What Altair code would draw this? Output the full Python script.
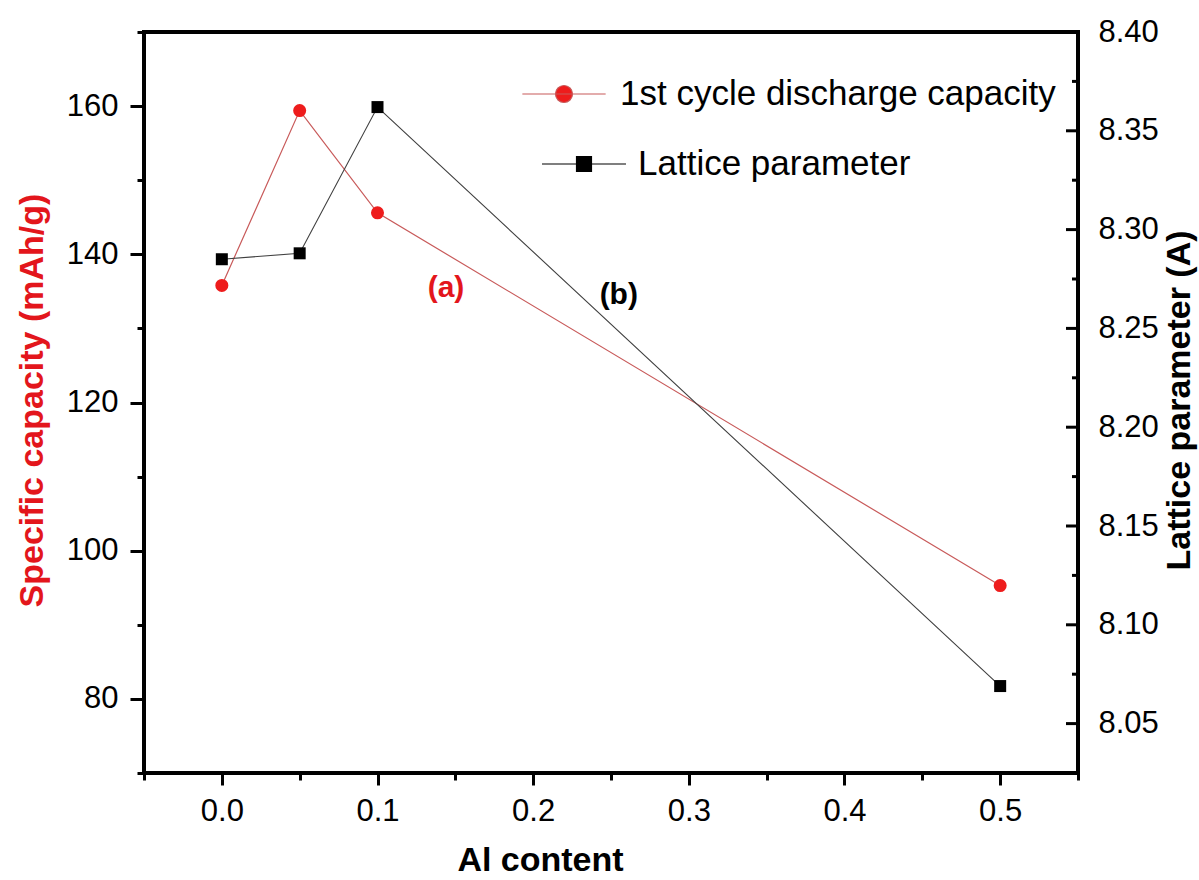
import altair as alt
import pandas as pd

FONT = "Liberation Sans"

# Measured data
al_content = [0.0, 0.05, 0.1, 0.5]
capacity = [135.8, 159.4, 145.6, 95.3]          # mAh/g
lattice = [8.285, 8.288, 8.362, 8.069]          # A

cap_name = "1st cycle discharge capacity"
lat_name = "Lattice parameter"

# Axis ticks
x_ticks = [-0.05, 0.0, 0.05, 0.1, 0.15, 0.2, 0.25, 0.3, 0.35, 0.4, 0.45, 0.5, 0.55]
cap_ticks = [70, 80, 90, 100, 110, 120, 130, 140, 150, 160, 170]
lat_major = [8.05, 8.10, 8.15, 8.20, 8.25, 8.30, 8.35, 8.40]
lat_minor = [8.025, 8.075, 8.125, 8.175, 8.225, 8.275, 8.325, 8.375]

# Panel labels
label_a = {"x": 0.144, "y": 135.4, "text": "(a)"}
label_b = {"x": 0.255, "y": 8.267, "text": "(b)"}

W, H = 934, 741
RED = "#ee1c1c"
RED_LINE = "#c85a5a"
RED_TITLE = "#e3161c"

cap_df = pd.DataFrame({"al": al_content, "cap": capacity, "series": cap_name})
lat_df = pd.DataFrame({"al": al_content, "lat": lattice, "series": lat_name})

x_scale = alt.Scale(domain=[-0.05, 0.55], nice=False, zero=False)
cap_scale = alt.Scale(domain=[70, 170], nice=False, zero=False)
lat_scale = alt.Scale(domain=[8.025, 8.40], nice=False, zero=False)

x_axis = alt.Axis(
    values=x_ticks,
    format=".1f",
    labelExpr="abs(datum.value * 10 - round(datum.value * 10)) < 1e-6 && datum.value > -0.01 && datum.value < 0.51 ? datum.label : ''",
    tickSize={"condition": {"test": "abs(datum.value * 10 - round(datum.value * 10)) < 1e-6", "value": 12}, "value": 7},
    labelPadding=11,
    title="Al content",
    titleX=396, titleY=87,
    titleAlign="center", titleBaseline="middle",
)

cap_axis = alt.Axis(
    orient="left",
    values=cap_ticks,
    labelExpr="datum.value % 20 === 0 && datum.value >= 80 && datum.value <= 160 ? datum.label : ''",
    tickSize={"condition": {"test": "datum.value % 20 === 0", "value": 14}, "value": 7},
    labelPadding=12,
    title="Specific capacity (mAh/g)",
    titleColor=RED_TITLE,
    titleAngle=270,
    titleX=-112, titleY=368,
    titleAlign="center", titleBaseline="middle",
)

lat_axis = alt.Axis(
    orient="right",
    values=lat_major,
    format=".2f",
    ticks=False,
    labelPadding=20,
    title="Lattice parameter (A)",
    titleAngle=270,
    titleX=101, titleY=368,
    titleAlign="center", titleBaseline="middle",
)

red_path = "M-2.45,0L2.45,0M0.5,0A0.5,0.5,0,1,1,-0.5,0A0.5,0.5,0,1,1,0.5,0Z"
black_path = "M-2.47,0L2.47,0M-0.44,-0.44L0.44,-0.44L0.44,0.44L-0.44,0.44Z"

# Capacity series (left axis)
red_line = alt.Chart(cap_df).mark_line(color=RED_LINE, strokeWidth=1.2).encode(
    x=alt.X("al:Q", scale=x_scale, axis=x_axis),
    y=alt.Y("cap:Q", scale=cap_scale, axis=cap_axis),
)
red_pts = alt.Chart(cap_df).mark_point(filled=True, shape="circle", size=170, opacity=1).encode(
    x=alt.X("al:Q", scale=x_scale, axis=x_axis),
    y=alt.Y("cap:Q", scale=cap_scale, axis=cap_axis),
    color=alt.Color(
        "series:N",
        scale=alt.Scale(domain=[cap_name], range=[RED]),
        legend=alt.Legend(
            orient="none", legendX=402, legendY=44, title=None,
            symbolType=red_path, symbolSize=1156,
            symbolStrokeColor=RED_LINE, symbolStrokeWidth=1.2,
            labelFontSize=35, labelFont=FONT, labelColor="black",
            labelOffset=38, padding=0, labelLimit=600,
        ),
    ),
)
red_text = alt.Chart(pd.DataFrame([label_a])).mark_text(
    font=FONT, fontSize=30, fontWeight="bold", color=RED_TITLE
).encode(
    x=alt.X("x:Q", scale=x_scale, axis=x_axis),
    y=alt.Y("y:Q", scale=cap_scale, axis=cap_axis),
    text="text:N",
)
red_layer = alt.layer(red_line, red_pts, red_text)

# Lattice series (right axis)
black_line = alt.Chart(lat_df).mark_line(color="#404040", strokeWidth=1.1).encode(
    x=alt.X("al:Q", scale=x_scale, axis=x_axis),
    y=alt.Y("lat:Q", scale=lat_scale, axis=lat_axis),
)
black_pts = alt.Chart(lat_df).mark_point(filled=True, shape="square", size=144, opacity=1).encode(
    x=alt.X("al:Q", scale=x_scale, axis=x_axis),
    y=alt.Y("lat:Q", scale=lat_scale, axis=lat_axis),
    color=alt.Color(
        "series:N",
        scale=alt.Scale(domain=[lat_name], range=["#000000"]),
        legend=alt.Legend(
            orient="none", legendX=422, legendY=114, title=None,
            symbolType=black_path, symbolSize=1156,
            symbolStrokeColor="#000000", symbolStrokeWidth=1.2,
            labelFontSize=35, labelFont=FONT, labelColor="black",
            labelOffset=36, padding=0, labelLimit=600,
        ),
    ),
)
black_text = alt.Chart(pd.DataFrame([label_b])).mark_text(
    font=FONT, fontSize=30, fontWeight="bold", color="black"
).encode(
    x=alt.X("x:Q", scale=x_scale, axis=x_axis),
    y=alt.Y("y:Q", scale=lat_scale, axis=lat_axis),
    text="text:N",
)
# inward ticks on the right axis
major_ticks = alt.Chart(pd.DataFrame({"v": lat_major})).mark_rule(color="black", strokeWidth=3).encode(
    x=alt.value(W - 12), x2=alt.value(W),
    y=alt.Y("v:Q", scale=lat_scale, axis=lat_axis),
)
minor_ticks = alt.Chart(pd.DataFrame({"v": lat_minor})).mark_rule(color="black", strokeWidth=3).encode(
    x=alt.value(W - 6), x2=alt.value(W),
    y=alt.Y("v:Q", scale=lat_scale, axis=lat_axis),
)
black_layer = alt.layer(black_line, black_pts, black_text, major_ticks, minor_ticks)

chart = (
    alt.layer(red_layer, black_layer)
    .resolve_scale(y="independent", color="independent")
    .properties(
        width=W, height=H,
        autosize=alt.AutoSizeParams(type="none"),
        padding={"left": 144, "top": 32, "right": 121, "bottom": 107},
        background="white",
    )
    .configure_view(stroke="black", strokeWidth=4)
    .configure_axis(
        domain=False, grid=False,
        tickColor="black", tickWidth=3,
        labelFont=FONT, labelFontSize=31, labelColor="black",
        labelOverlap=False, labelFlush=False, labelBound=False,
        titleFont=FONT, titleFontSize=34, titleFontWeight="bold", titleColor="black",
    )
)

chart.save("out.html", embed_options={"renderer": "svg", "actions": False})
